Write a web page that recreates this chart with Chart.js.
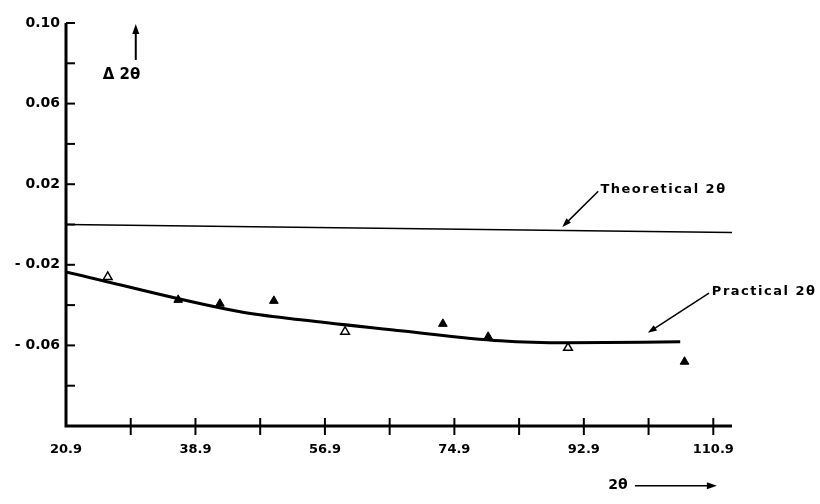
<!DOCTYPE html>
<html>
<head>
<meta charset="utf-8">
<script src="https://cdn.jsdelivr.net/npm/chart.js@4/dist/chart.umd.min.js"></script>
<style>
  html, body { margin: 0; padding: 0; background: #fff; }
  #wrap { width: 820px; height: 504px; }
</style>
</head>
<body>
<div id="wrap"><canvas id="chart" width="820" height="504"></canvas></div>
<script>
// --- Data ---
const xTickValues = [20.9, 29.9, 38.9, 47.9, 56.9, 65.9, 74.9, 83.9, 92.9, 101.9, 110.9];
const xTickLabels = ['20.9', '', '38.9', '', '56.9', '', '74.9', '', '92.9', '', '110.9'];
const yTickValues = [-0.10, -0.08, -0.06, -0.04, -0.02, 0.00, 0.02, 0.04, 0.06, 0.08, 0.10];
const yTickLabels = ['', '', '- 0.06', '', '- 0.02', '', '0.02', '', '0.06', '', '0.10'];

// theoretical 2θ reference line
const theoreticalX = [20.9, 113.5];
const theoreticalY = [0.000, -0.004];

// fitted practical 2θ curve
const practicalX = [20.9, 45.1, 53.5, 67.4, 81.3, 90.6, 106.3];
const practicalY = [-0.0235, -0.0433, -0.0473, -0.0527, -0.0577, -0.0587, -0.0582];

// measured points, open and filled markers
const openX = [26.7, 59.7, 90.7];
const openY = [-0.0260, -0.0532, -0.0612];
const filledX = [36.5, 42.3, 49.8, 73.3, 79.6, 106.9];
const filledY = [-0.0374, -0.0393, -0.0379, -0.0493, -0.0557, -0.0681];

// --- Helpers ---
function pts(xs, ys) {
  return xs.map((x, i) => ({ x: x, y: ys[i] }));
}

const FONT = "'DejaVu Sans', sans-serif";

function arrow(ctx, x1, y1, x2, y2, head) {
  const a = Math.atan2(y2 - y1, x2 - x1);
  ctx.beginPath();
  ctx.moveTo(x1, y1);
  ctx.lineTo(x2 - Math.cos(a) * head * 0.8, y2 - Math.sin(a) * head * 0.8);
  ctx.stroke();
  ctx.beginPath();
  ctx.moveTo(x2, y2);
  ctx.lineTo(x2 - head * Math.cos(a) + head * 0.35 * Math.sin(a), y2 - head * Math.sin(a) - head * 0.35 * Math.cos(a));
  ctx.lineTo(x2 - head * Math.cos(a) - head * 0.35 * Math.sin(a), y2 - head * Math.sin(a) + head * 0.35 * Math.cos(a));
  ctx.closePath();
  ctx.fill();
}

// axes with ticks crossing the line, plus the hand lettered notes
const scanAxes = {
  id: 'scanAxes',
  afterDraw(chart) {
    const ctx = chart.ctx;
    const xs = chart.scales.x, ys = chart.scales.y;
    const a = chart.chartArea;
    const px = v => xs.getPixelForValue(v);
    const py = v => ys.getPixelForValue(v);
    ctx.save();
    ctx.strokeStyle = '#000';
    ctx.fillStyle = '#000';
    ctx.lineCap = 'butt';

    ctx.lineWidth = 3;
    ctx.beginPath();
    ctx.moveTo(a.left, a.top);
    ctx.lineTo(a.left, a.bottom);
    ctx.lineTo(a.right, a.bottom);
    ctx.stroke();

    ctx.lineWidth = 2;
    yTickValues.forEach((v, i) => {
      if (i === 0) return;
      ctx.beginPath();
      ctx.moveTo(a.left, py(v));
      ctx.lineTo(a.left + 9, py(v));
      ctx.stroke();
    });
    xTickValues.forEach((v, i) => {
      if (i === 0) return;
      ctx.beginPath();
      ctx.moveTo(px(v), a.bottom - 8);
      ctx.lineTo(px(v), a.bottom + 9);
      ctx.stroke();
    });

    ctx.font = 'bold 13px ' + FONT;
    ctx.letterSpacing = '1.5px';
    ctx.textBaseline = 'middle';
    ctx.textAlign = 'left';
    ctx.lineWidth = 1.5;

    ctx.fillText('Theoretical 2θ', px(95.2), py(0.0172));
    arrow(ctx, px(94.9), py(0.0165), px(89.9), py(-0.0012), 9);

    ctx.fillText('Practical 2θ', px(110.7), py(-0.0334));
    arrow(ctx, px(110.3), py(-0.0340), px(101.8), py(-0.0537), 9);

    // axis titles
    ctx.letterSpacing = '0px';
    ctx.font = 'bold 15px ' + FONT;
    ctx.fillText('Δ 2θ', px(26.0), py(0.0742));
    ctx.lineWidth = 2;
    arrow(ctx, px(30.6), py(0.0817), px(30.6), py(0.0995), 10);

    ctx.font = 'bold 14px ' + FONT;
    ctx.fillText('2θ', px(96.3), py(-0.1296));
    ctx.lineWidth = 1.5;
    arrow(ctx, px(100.0), py(-0.1296), px(111.4), py(-0.1296), 10);
    ctx.restore();
  }
};

new Chart(document.getElementById('chart').getContext('2d'), {
  type: 'scatter',
  data: {
    datasets: [
      {
        label: 'Theoretical 2θ',
        type: 'line',
        data: pts(theoreticalX, theoreticalY),
        borderColor: '#000',
        borderWidth: 1.5,
        pointRadius: 0,
        fill: false,
      },
      {
        label: 'Practical 2θ',
        type: 'line',
        data: pts(practicalX, practicalY),
        borderColor: '#000',
        borderWidth: 3,
        cubicInterpolationMode: 'monotone',
        pointRadius: 0,
        fill: false,
      },
      {
        label: 'Measured (open)',
        data: pts(openX, openY),
        pointStyle: 'triangle',
        pointRadius: 5,
        borderColor: '#000',
        borderWidth: 1.5,
        backgroundColor: '#fff',
      },
      {
        label: 'Measured (filled)',
        data: pts(filledX, filledY),
        pointStyle: 'triangle',
        pointRadius: 5,
        borderColor: '#000',
        borderWidth: 1,
        backgroundColor: '#000',
      },
    ]
  },
  options: {
    responsive: false,
    animation: false,
    layout: { padding: { top: 23, right: 88, left: 0, bottom: 0 } },
    plugins: {
      legend: { display: false },
      tooltip: { enabled: false },
    },
    scales: {
      x: {
        type: 'linear',
        min: 20.9,
        max: 113.5,
        grid: { display: false, drawTicks: false },
        border: { display: false },
        afterBuildTicks: s => { s.ticks = xTickValues.map(v => ({ value: v })); },
        afterFit: s => { s.height = 78; },
        ticks: {
          autoSkip: false,
          maxRotation: 0,
          padding: 16,
          color: '#000',
          font: { size: 13, weight: 'bold', family: FONT },
          callback: (v, i) => xTickLabels[i],
        }
      },
      y: {
        min: -0.10,
        max: 0.10,
        grid: { display: false, drawTicks: false },
        border: { display: false },
        afterBuildTicks: s => { s.ticks = yTickValues.map(v => ({ value: v })); },
        afterFit: s => { s.width = 66; },
        ticks: {
          autoSkip: false,
          padding: 6,
          color: '#000',
          font: { size: 14, weight: 'bold', family: FONT },
          callback: (v, i) => yTickLabels[i],
        }
      }
    }
  },
  plugins: [scanAxes]
});
</script>
</body>
</html>
